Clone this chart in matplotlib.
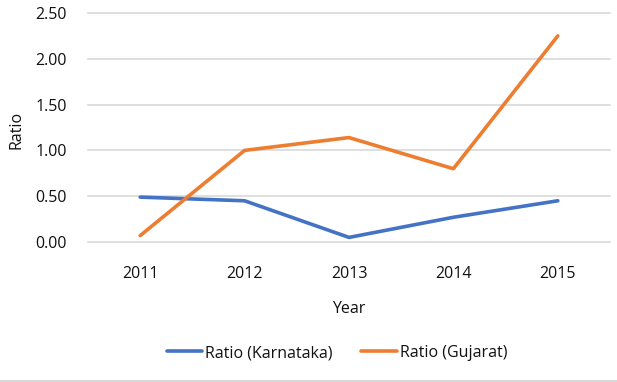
import matplotlib
matplotlib.use("Agg")
import matplotlib.pyplot as plt
from matplotlib.lines import Line2D

years = ["2011", "2012", "2013", "2014", "2015"]
karnataka = [0.49, 0.45, 0.05, 0.27, 0.45]
gujarat = [0.07, 1.00, 1.14, 0.80, 2.25]
yticks = [0.0, 0.5, 1.0, 1.5, 2.0, 2.5]

plt.rcParams['font.family'] = ['Open Sans', 'DejaVu Sans']
txt = '#111111'
fs = 11.5

fig = plt.figure(figsize=(6.17, 3.82), dpi=100)
ax = fig.add_axes([88/617, 1-242/382, (610-88)/617, (242-13)/382])
x = list(range(len(years)))
ax.plot(x, karnataka, color='#4472C4', lw=2.6, label='Ratio (Karnataka)', solid_capstyle='round')
ax.plot(x, gujarat, color='#ED7D31', lw=2.6, label='Ratio (Gujarat)', solid_capstyle='round')
ax.set_xlim(-0.5, 4.5)
ax.set_ylim(0, 2.5)
ax.set_yticks(yticks)
ax.set_yticklabels([f"{v:.2f}" for v in yticks])
ax.set_xticks(x)
ax.set_xticklabels(years)
ax.grid(axis='y', color='#D9D9D9', lw=1.2)
for gl in ax.get_ygridlines():
    gl.set_clip_on(False)
ax.set_axisbelow(True)
for s in ax.spines.values():
    s.set_visible(False)
ax.tick_params(axis='both', length=0, labelsize=fs, colors=txt)
ax.tick_params(axis='y', pad=15)
ax.tick_params(axis='x', pad=17)
ax.set_xlabel('Year', fontsize=fs, color=txt, labelpad=14)
fig.text(16/617, 1-130/382, 'Ratio', rotation=90, ha='center', va='center', fontsize=fs, color=txt)
fig.legend(loc='center', bbox_to_anchor=(337/617, 1-353/382), ncol=2, frameon=False,
           fontsize=fs, handlelength=2.2, handletextpad=0.2, columnspacing=1.8,
           labelcolor=txt)
fig.add_artist(Line2D([0, 1], [1-380.5/382]*2, color='#D9D9D9', lw=1.5))
fig.savefig('out.png', dpi=100)
